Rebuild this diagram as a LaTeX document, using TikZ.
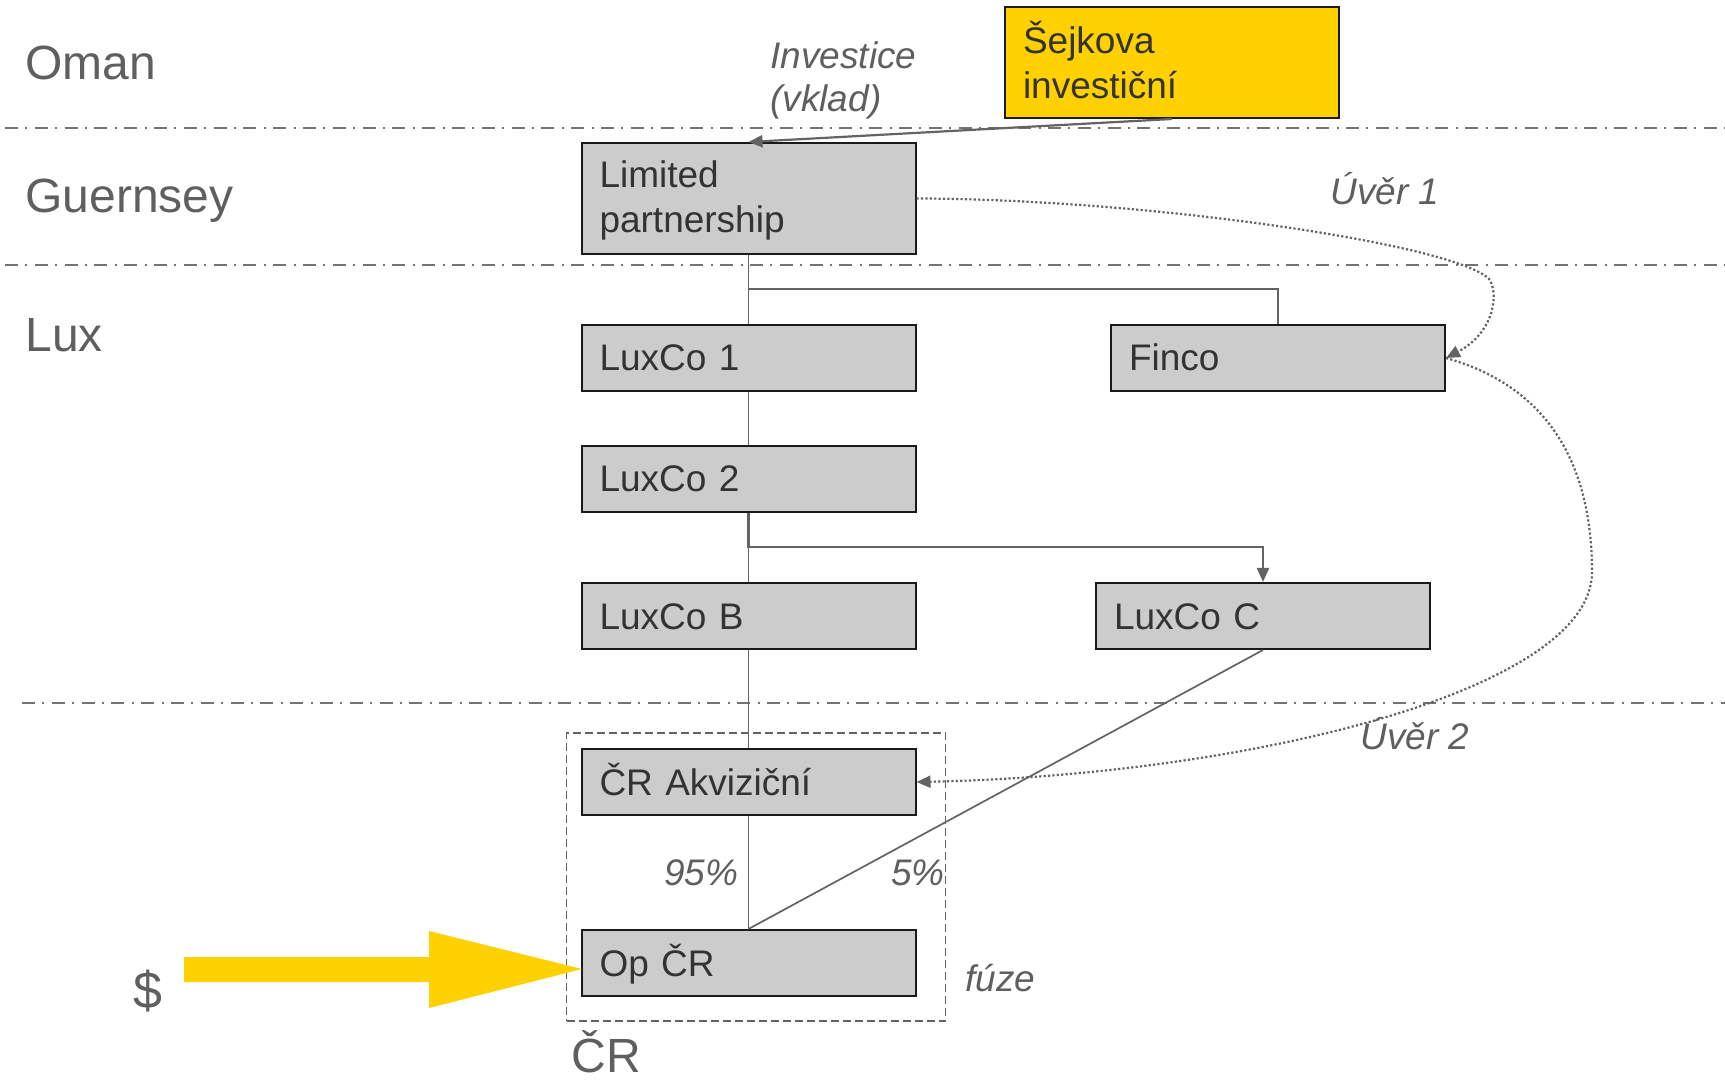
\documentclass[tikz,border=0pt]{standalone}
\usepackage{fontspec}
\setmainfont{Liberation Sans}
\usetikzlibrary{arrows.meta}
\definecolor{boxfill}{HTML}{CCCCCC}
\definecolor{gold}{HTML}{FFD100}
\definecolor{boxtext}{HTML}{333333}
\definecolor{lblc}{HTML}{5F5F5F}
\definecolor{lnc}{HTML}{636363}
\definecolor{sepc}{HTML}{737373}
\definecolor{edgec}{HTML}{1A1A1A}
\begin{document}
\begin{tikzpicture}[x=0.5pt,y=-0.5pt,
  box/.style={draw=edgec, line width=1pt, fill=boxfill, minimum width=167pt, minimum height=33pt,
    inner xsep=9pt, inner ysep=0pt, text width=149pt, align=left, text=boxtext,
    font=\fontsize{18.5pt}{22.2pt}\selectfont, text height=13pt, text depth=0pt},
  tallbox/.style={box, minimum height=55.5pt, text depth=23.5pt},
  goldbox/.style={box, fill=gold, minimum height=55.5pt, text depth=21.5pt},
  sepline/.style={draw=sepc, line width=0.85pt, dash pattern=on 6.5pt off 3.7pt on 1pt off 3.7pt},
  conn/.style={draw=lnc, line width=0.85pt},
  connarrow/.style={draw=lnc, line width=1.1pt, -{Triangle[length=7pt,width=6pt]}},
  loan/.style={draw=lnc, line width=1.1pt, dash pattern=on 1.1pt off 1.1pt, -{Triangle[length=7pt,width=6pt]}},
  frame/.style={draw=lnc, line width=0.75pt, dash pattern=on 4pt off 2pt, minimum width=189.5pt, minimum height=144pt, inner sep=0pt},
  lbl/.style={text=lblc, inner sep=0pt, anchor=base west, font=\fontsize{24pt}{28.8pt}\selectfont},
  ilbl/.style={text=lblc, inner sep=0pt, anchor=base west, font=\fontsize{18.5pt}{22.2pt}\selectfont\itshape}
]
\useasboundingbox (0,0) rectangle (1725,1080);

% separators
\draw[sepline] (5,128) -- (1725,128);
\draw[sepline] (5,265) -- (1725,265);
\draw[sepline] (22,703) -- (1725,703);

% region labels
\node[lbl] (oman) at (25,80) {Oman};
\node[lbl] (guern) at (25,213) {Guernsey};
\node[lbl] (lux) at (25,352) {Lux};
\node[lbl] (cr) at (571,1072) {ČR};
\node[lbl, font=\fontsize{26pt}{31pt}\selectfont] (dollar) at (133,1008) {\$};

% merger frame
\node[frame] (merge) at (756,877) {};

% boxes
\node[goldbox] (sejk) at (1172,62.5) {Šejkova\\investiční};
\node[tallbox] (lp) at (748.5,198.5) {Limited\\partnership};
\node[box] (l1) at (748.5,358) {LuxCo 1};
\node[box] (finco) at (1278,358) {Finco};
\node[box] (l2) at (748.5,479) {LuxCo 2};
\node[box] (lb) at (748.5,616) {LuxCo B};
\node[box] (lc) at (1263,616) {LuxCo C};
\node[box] (akv) at (748.5,782) {ČR Akviziční};
\node[box] (op) at (748.5,963) {Op ČR};

% connectors
\coordinate (b1) at (748.5,289);
\coordinate (b2) at (748.5,547);
\draw[connarrow] (sejk.south) -- (lp.north);
\draw[conn] (lp.south) -- (l1.north);
\draw[conn] (b1) -| (finco.north);
\draw[conn] (l1.south) -- (l2.north);
\draw[conn] (b2) -- (lb.north);
\draw[connarrow] (l2.south) -- (b2) -| (lc.north);
\draw[conn] (lb.south) -- (akv.north);
\draw[conn] (akv.south) -- (op.north);
\draw[conn] (lc.south) -- (op.north);

% loans
\draw[loan] (lp.east) .. controls (1150,199) and (1460,245) .. (1490,280)
  .. controls (1500,300) and (1490,335) .. (finco.east);
\draw[loan] (finco.east) .. controls (1560,390) and (1592,480) .. (1592,572)
  .. controls (1592,690) and (1250,775) .. (akv.east);

% yellow cash arrow
\coordinate (tip) at (582,969);
\fill[gold] (184,957) -- (429,957) -- (429,931) -- (tip) -- (429,1008) -- (429,982) -- (184,982) -- cycle;

% italic labels
\node[ilbl] (inv1) at (770,69) {Investice};
\node[ilbl] (inv2) at (770,112) {(vklad)};
\node[ilbl] (u1) at (1330,205) {Úvěr 1};
\node[ilbl] (u2) at (1360,749) {Úvěr 2};
\node[ilbl] (p95) at (664,885) {95\%};
\node[ilbl] (p5) at (891,885) {5\%};
\node[ilbl] (fuze) at (965,991) {fúze};
\end{tikzpicture}
\end{document}
